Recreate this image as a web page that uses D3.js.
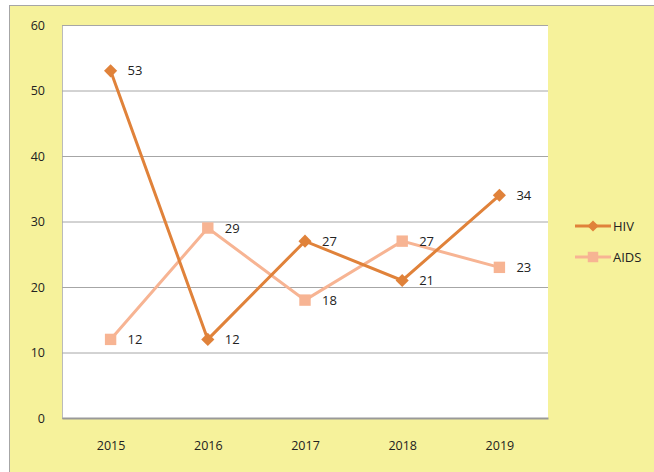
<!DOCTYPE html>
<html>
<head>
<meta charset="utf-8">
<script src="https://cdn.jsdelivr.net/npm/d3@7"></script>
<style>
  body { margin: 0; background: #fff; }
  text { font-family: "Open Sans", "Liberation Sans", sans-serif; fill: #222; }
</style>
</head>
<body>
<div id="chart"></div>
<script>
let years = ["2015", "2016", "2017", "2018", "2019"];
let hiv = [53, 12, 27, 21, 34];
let aids = [12, 29, 18, 27, 23];
let yTicks = [0, 10, 20, 30, 40, 50, 60];

let width = 654;
let height = 472;
let plotLeft = 62;
let plotRight = 548;
let plotTop = 25;
let plotBottom = 418;

let hivColor = "#E0823A";
let aidsColor = "#F7B493";

let svg = d3.select("#chart")
  .append("svg")
  .attr("width", width)
  .attr("height", height);

// outer yellow frame
svg.append("rect")
  .attr("x", 9.5).attr("y", 5.5)
  .attr("width", width).attr("height", height)
  .attr("fill", "#F6F29B")
  .attr("stroke", "#A6A6A6");

let x = d3.scalePoint().domain(years).range([plotLeft, plotRight]).padding(0.5);
let y = d3.scaleLinear().domain([0, 60]).range([plotBottom, plotTop]);

svg.append("rect")
  .attr("x", plotLeft).attr("y", plotTop)
  .attr("width", plotRight - plotLeft).attr("height", plotBottom - plotTop)
  .attr("fill", "#fff");

// gridlines
let yAxis = d3.axisLeft(y).tickValues(yTicks).tickSize(-(plotRight - plotLeft)).tickPadding(17);
let gy = svg.append("g").attr("transform", "translate(" + plotLeft + ",0)").call(yAxis);
gy.select(".domain").attr("stroke", "#bbb");
gy.selectAll(".tick line").attr("stroke", "#A6A6A6");
gy.selectAll(".tick text").attr("font-size", 12.5).attr("fill", "#222");

let xAxis = d3.axisBottom(x).tickSize(0).tickPadding(23);
let gx = svg.append("g").attr("transform", "translate(0," + plotBottom + ")").call(xAxis);
gx.select(".domain").attr("stroke", "#999").attr("stroke-width", 2);
gx.selectAll(".tick text").attr("font-size", 12.5).attr("fill", "#222");

let line = d3.line().x((d, i) => x(years[i])).y(d => y(d));

function drawSeries(values, color, shape, size) {
  svg.append("path")
    .datum(values)
    .attr("d", line)
    .attr("fill", "none")
    .attr("stroke", color)
    .attr("stroke-width", 3);
  svg.selectAll(null)
    .data(values)
    .enter()
    .append("path")
    .attr("d", d3.symbol().type(shape).size(size))
    .attr("transform", (d, i) => "translate(" + x(years[i]) + "," + y(d) + ")")
    .attr("fill", color);
  svg.selectAll(null)
    .data(values)
    .enter()
    .append("text")
    .attr("x", (d, i) => x(years[i]) + 17)
    .attr("y", d => y(d) + 4.5)
    .attr("font-size", 13)
    .text(d => d);
}

drawSeries(aids, aidsColor, d3.symbolSquare, 130);
drawSeries(hiv, hivColor, d3.symbolDiamond2, 110);

// legend
let legend = [["HIV", hivColor, d3.symbolDiamond2, 80], ["AIDS", aidsColor, d3.symbolSquare, 110]];
legend.forEach((l, i) => {
  let ly = 226 + i * 31;
  svg.append("line")
    .attr("x1", 575).attr("x2", 611)
    .attr("y1", ly).attr("y2", ly)
    .attr("stroke", l[1]).attr("stroke-width", 3);
  svg.append("path")
    .attr("d", d3.symbol().type(l[2]).size(l[3]))
    .attr("transform", "translate(593," + ly + ")")
    .attr("fill", l[1]);
  svg.append("text")
    .attr("x", 613).attr("y", ly + 4.5)
    .attr("font-size", 13)
    .text(l[0]);
});
</script>
</body>
</html>
